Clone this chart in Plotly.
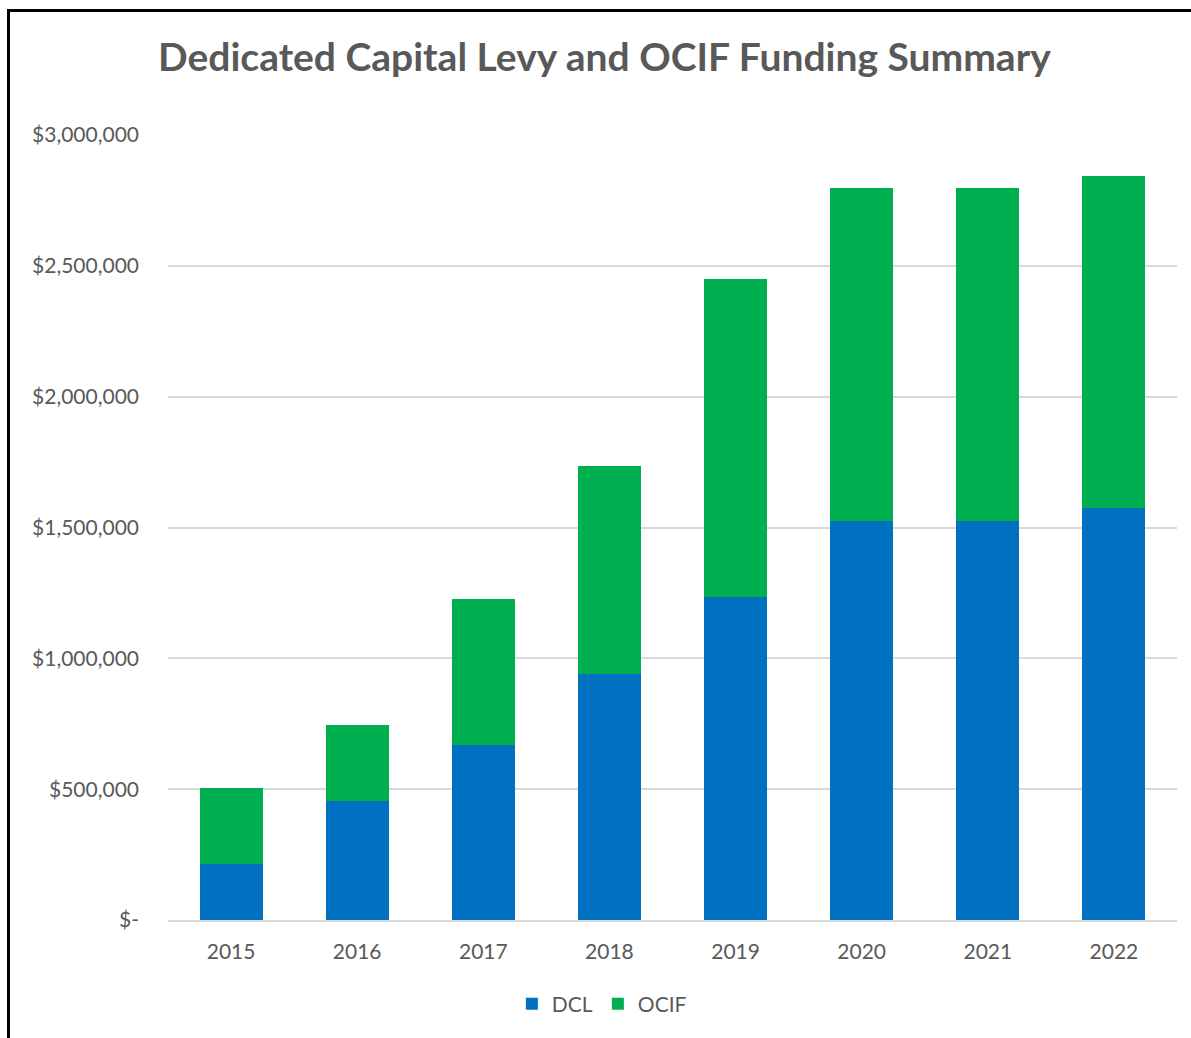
import plotly.graph_objects as go

years = ["2015", "2016", "2017", "2018", "2019", "2020", "2021", "2022"]
dcl = [214000, 455000, 669000, 940000, 1234000, 1525000, 1525000, 1575000]
ocif = [290000, 290000, 558000, 795000, 1216000, 1272000, 1272000, 1268000]

tick_vals = [0, 500000, 1000000, 1500000, 2000000, 2500000, 3000000]
tick_text = ["$-", "$500,000", "$1,000,000", "$1,500,000", "$2,000,000", "$2,500,000", "$3,000,000"]

FONT = "Lato"
GREY = "#595959"

fig = go.Figure()
fig.add_trace(go.Bar(name="DCL", x=years, y=dcl, marker=dict(color="#0070C0", line=dict(width=0))))
fig.add_trace(go.Bar(name="OCIF", x=years, y=ocif, marker=dict(color="#00B050", line=dict(width=0))))

# plot area in pixels: x 168..1177, y 135..920
L, R, T, B = 168, 1177, 135, 920
W, H = 1191, 1038


def px_x(p):
    return (p - L) / (R - L)


def px_y(p):
    return (B - p) / (B - T)


shapes = [
    dict(type="line", xref="paper", yref="paper", x0=px_x(8.5), x1=px_x(8.5), y0=px_y(9), y1=px_y(1040),
         line=dict(color="black", width=3)),
    dict(type="line", xref="paper", yref="paper", x0=px_x(7), x1=px_x(1195), y0=px_y(10.5), y1=px_y(10.5),
         line=dict(color="black", width=3)),
]

fig.update_layout(
    width=W, height=H,
    margin=dict(l=L, r=W - R, t=T, b=H - B, pad=0),
    barmode="stack",
    bargap=0.5,
    plot_bgcolor="white",
    paper_bgcolor="white",
    title=dict(text="<b>Dedicated Capital Levy and OCIF Funding Summary</b>",
               x=0.5075, xanchor="center", y=1 - 57 / H, yanchor="middle",
               font=dict(family=FONT, size=39, color=GREY)),
    font=dict(family=FONT, color=GREY, size=21),
    showlegend=True,
    legend=dict(orientation="h", x=0.43, xanchor="center", y=px_y(1004), yanchor="middle",
                font=dict(family=FONT, size=21, color=GREY), itemwidth=30, traceorder="normal"),
    shapes=shapes,
    xaxis=dict(showgrid=False, showline=True, linecolor="#d9d9d9", linewidth=1.5, ticks="",
               tickfont=dict(family=FONT, size=21, color=GREY), ticklabelstandoff=12),
    yaxis=dict(range=[0, 3000000], tickvals=tick_vals, ticktext=tick_text, showgrid=True,
               gridcolor="#d9d9d9", gridwidth=1.5, zeroline=False, showline=False, ticks="",
               tickfont=dict(family=FONT, size=21, color=GREY), ticklabelstandoff=28),
)

fig.write_html("out.html")
